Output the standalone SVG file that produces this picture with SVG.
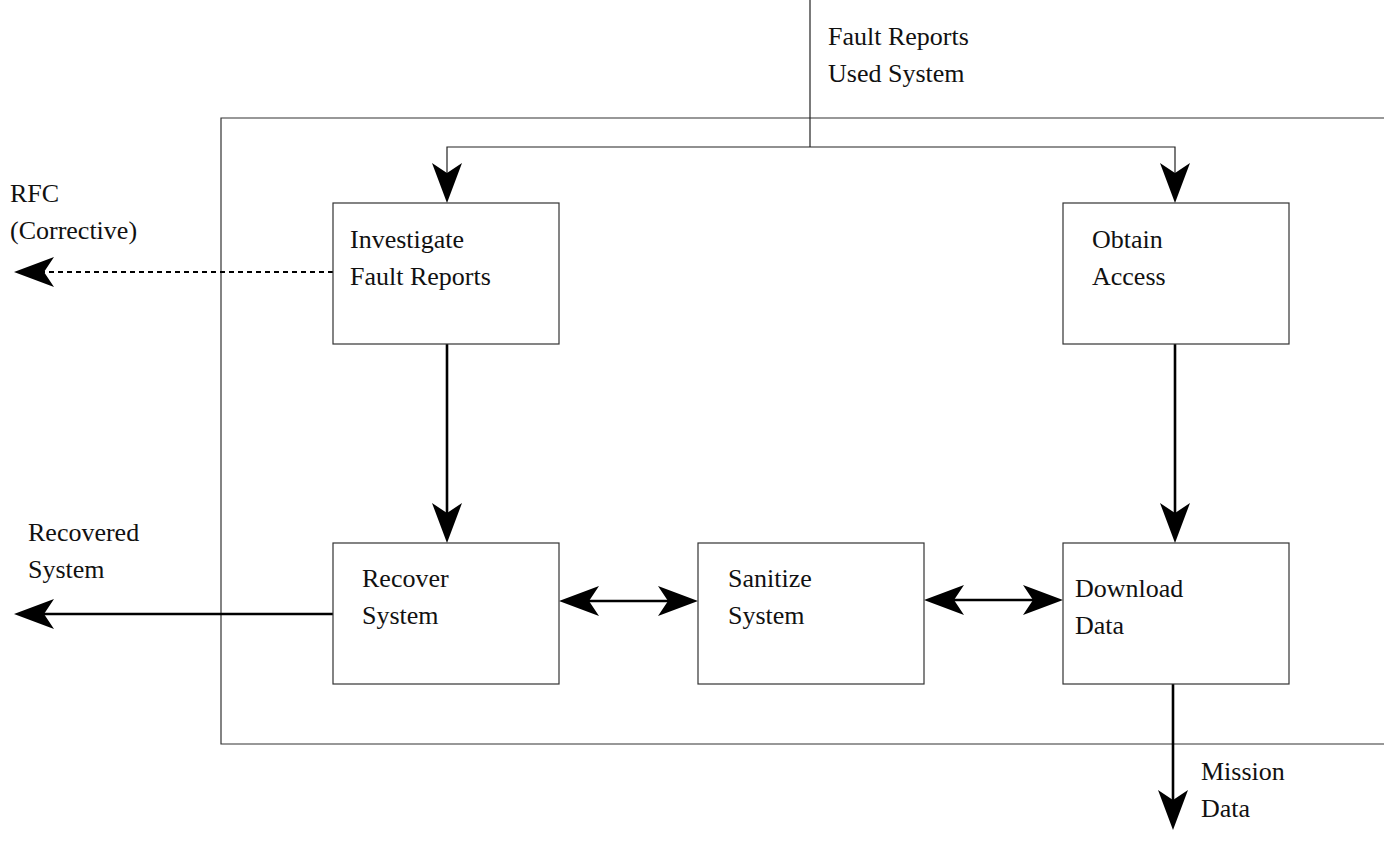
<svg xmlns="http://www.w3.org/2000/svg" width="1384" height="841" viewBox="0 0 1384 841">
  <style>
    .frame { fill: none; stroke: #333; stroke-width: 1.2; }
    .box { fill: #fff; stroke: #333; stroke-width: 1.2; }
    .thin { fill: none; stroke: #222; stroke-width: 1.2; }
    .flow { fill: none; stroke: #000; stroke-width: 2.6; }
    .dash { fill: none; stroke: #000; stroke-width: 2.2; stroke-dasharray: 5 4; }
    text { font-family: "Liberation Serif", "Times New Roman", serif; font-size: 26px; fill: #111; }
  </style>
  <defs>
    <marker id="head" viewBox="0 0 40 30" refX="10" refY="15" markerWidth="40" markerHeight="30" markerUnits="userSpaceOnUse" orient="auto-start-reverse">
      <path d="M0,0 L40,15 L0,30 L10,15 z" fill="#000"/>
    </marker>
  </defs>

  <!-- enclosing boundary, open on the right -->
  <path class="frame" d="M1384,118 H221 V744 H1384"/>

  <g id="connectors">
    <!-- incoming fault reports / used system -->
    <path class="thin" d="M810,0 V147"/>
    <path class="thin" d="M447,173 V147 H1175 V173" marker-start="url(#head)" marker-end="url(#head)"/>
    <!-- RFC (corrective) out -->
    <path class="dash" d="M333,272 H44" marker-end="url(#head)"/>
    <!-- recovered system out -->
    <path class="flow" d="M333,614 H44" marker-end="url(#head)"/>
    <!-- investigate -> recover -->
    <path class="flow" d="M447,344 V513" marker-end="url(#head)"/>
    <!-- obtain -> download -->
    <path class="flow" d="M1175,344 V513" marker-end="url(#head)"/>
    <!-- recover <-> sanitize -->
    <path class="flow" d="M589,601 H668" marker-start="url(#head)" marker-end="url(#head)"/>
    <!-- sanitize <-> download -->
    <path class="flow" d="M954,600 H1033" marker-start="url(#head)" marker-end="url(#head)"/>
    <!-- mission data out -->
    <path class="flow" d="M1173,684 V800" marker-end="url(#head)"/>
  </g>

  <g id="investigate">
    <rect class="box" x="333" y="203" width="226" height="141"/>
    <text x="350" y="248">Investigate</text>
    <text x="350" y="285">Fault Reports</text>
  </g>
  <g id="obtain">
    <rect class="box" x="1063" y="203" width="226" height="141"/>
    <text x="1092" y="248">Obtain</text>
    <text x="1092" y="285">Access</text>
  </g>
  <g id="recover">
    <rect class="box" x="333" y="543" width="226" height="141"/>
    <text x="362" y="587">Recover</text>
    <text x="362" y="624">System</text>
  </g>
  <g id="sanitize">
    <rect class="box" x="698" y="543" width="226" height="141"/>
    <text x="728" y="587">Sanitize</text>
    <text x="728" y="624">System</text>
  </g>
  <g id="download">
    <rect class="box" x="1063" y="543" width="226" height="141"/>
    <text x="1075" y="597">Download</text>
    <text x="1075" y="634">Data</text>
  </g>

  <g id="labels">
    <text x="828" y="45">Fault Reports</text>
    <text x="828" y="82">Used System</text>
    <text x="10" y="202">RFC</text>
    <text x="10" y="239">(Corrective)</text>
    <text x="28" y="541">Recovered</text>
    <text x="28" y="578">System</text>
    <text x="1201" y="780">Mission</text>
    <text x="1201" y="817">Data</text>
  </g>
</svg>
